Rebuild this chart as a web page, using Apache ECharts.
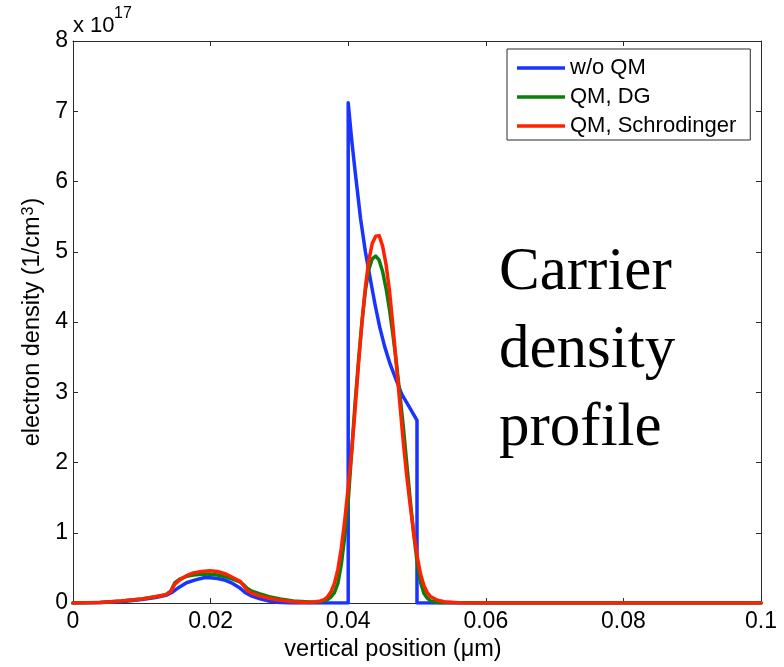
<!DOCTYPE html>
<html>
<head>
<meta charset="utf-8">
<script src="https://cdn.jsdelivr.net/npm/echarts@6/dist/echarts.min.js"></script>
<style>
  html, body { margin: 0; padding: 0; background: #fff; }
  #chart { width: 784px; height: 667px; }
</style>
</head>
<body>
<div id="chart"></div>
<script>
// Electron density along the vertical position, in units of 1e17 /cm^3

// Tick values for both axes
const xTicks = [0, 0.02, 0.04, 0.06, 0.08, 0.1];
const yTicks = [0, 1, 2, 3, 4, 5, 6, 7, 8];

// Classical (no quantum correction) profile
const noQmX = [0, 0.004, 0.007, 0.010, 0.012, 0.0135, 0.0145, 0.0155, 0.0165, 0.0178, 0.019, 0.020, 0.021, 0.022, 0.0232, 0.0242, 0.025, 0.026, 0.0272, 0.0285, 0.030, 0.032, 0.040, 0.040, 0.0405, 0.041, 0.0418, 0.0425, 0.0432, 0.0439, 0.0446, 0.0453, 0.0461, 0.047, 0.0478, 0.049, 0.050, 0.050, 0.1];
const noQmY = [0, 0.01, 0.02, 0.05, 0.08, 0.11, 0.16, 0.23, 0.29, 0.33, 0.36, 0.36, 0.35, 0.33, 0.28, 0.22, 0.15, 0.10, 0.06, 0.03, 0.01, 0, 0, 7.12, 6.6, 6.15, 5.47, 5.0, 4.62, 4.25, 3.92, 3.65, 3.40, 3.17, 2.97, 2.77, 2.60, 0, 0];

// Density-gradient quantum correction
const dgX = [0, 0.004, 0.007, 0.010, 0.012, 0.0135, 0.0142, 0.0148, 0.0155, 0.0165, 0.0175, 0.0187, 0.0199, 0.021, 0.0223, 0.0235, 0.0243, 0.0248, 0.0253, 0.026, 0.0272, 0.0285, 0.0301, 0.032, 0.0344, 0.036, 0.037, 0.0375, 0.038, 0.0385, 0.039, 0.0395, 0.040, 0.0405, 0.041, 0.0415, 0.042, 0.0425, 0.043, 0.0435, 0.044, 0.0445, 0.045, 0.0455, 0.046, 0.0465, 0.047, 0.0475, 0.048, 0.0485, 0.049, 0.0495, 0.050, 0.0505, 0.051, 0.0515, 0.052, 0.053, 0.06, 0.1];
const dgY = [0, 0.01, 0.03, 0.06, 0.09, 0.12, 0.17, 0.29, 0.34, 0.38, 0.40, 0.41, 0.41, 0.40, 0.37, 0.33, 0.30, 0.26, 0.21, 0.17, 0.13, 0.09, 0.06, 0.03, 0.015, 0.02, 0.05, 0.09, 0.15, 0.28, 0.55, 0.95, 1.45, 2.15, 2.85, 3.45, 4.0, 4.45, 4.75, 4.9, 4.94, 4.88, 4.72, 4.48, 4.18, 3.82, 3.42, 2.98, 2.52, 2.0, 1.48, 1.0, 0.6, 0.3, 0.14, 0.07, 0.03, 0.01, 0, 0];

// Schrodinger-Poisson solution
const schX = [0, 0.004, 0.007, 0.010, 0.012, 0.0135, 0.0142, 0.0148, 0.0155, 0.0165, 0.0175, 0.0187, 0.0199, 0.021, 0.0223, 0.0235, 0.0243, 0.0248, 0.0253, 0.026, 0.0272, 0.0285, 0.0301, 0.032, 0.0344, 0.036, 0.0365, 0.037, 0.0375, 0.038, 0.0385, 0.039, 0.0395, 0.040, 0.0405, 0.041, 0.0415, 0.042, 0.0425, 0.043, 0.0435, 0.044, 0.0445, 0.045, 0.0455, 0.046, 0.0465, 0.047, 0.0475, 0.048, 0.0485, 0.049, 0.0495, 0.050, 0.0505, 0.051, 0.0515, 0.052, 0.053, 0.054, 0.056, 0.06, 0.1];
const schY = [0, 0.01, 0.03, 0.06, 0.09, 0.12, 0.16, 0.27, 0.33, 0.39, 0.43, 0.45, 0.46, 0.45, 0.41, 0.35, 0.31, 0.25, 0.18, 0.14, 0.10, 0.07, 0.04, 0.02, 0.01, 0.03, 0.05, 0.09, 0.16, 0.28, 0.48, 0.78, 1.18, 1.65, 2.15, 2.75, 3.4, 4.0, 4.5, 4.88, 5.12, 5.22, 5.23, 5.08, 4.82, 4.45, 3.95, 3.4, 2.85, 2.3, 1.82, 1.4, 1.02, 0.68, 0.42, 0.25, 0.15, 0.09, 0.04, 0.02, 0.005, 0, 0];

const seriesNames = ['w/o QM', 'QM, DG', 'QM, Schrodinger'];
const seriesColors = ['#1a33ff', '#0a800a', '#ff2200'];

function pairs(xs, ys) {
  return xs.map((x, i) => [x, ys[i]]);
}

const font = '"Liberation Sans", Arial, sans-serif';
const frame = '#2b2b2b';

const chart = echarts.init(document.getElementById('chart'), null, { renderer: 'canvas' });

const axisCommon = {
  type: 'value',
  axisLine: { show: true, onZero: false, lineStyle: { color: frame, width: 1 } },
  axisTick: { show: true, inside: true, length: 5, lineStyle: { color: frame } },
  splitLine: { show: false }
};

const xLabelSet = new Set(xTicks.map(v => v.toFixed(3)));
const yLabelSet = new Set(yTicks.map(v => v.toFixed(3)));

chart.setOption({
  animation: false,
  backgroundColor: '#ffffff',
  grid: { left: 73, right: 23, top: 41, bottom: 60, containLabel: false },
  xAxis: [
    Object.assign({}, axisCommon, {
      position: 'bottom',
      min: xTicks[0], max: xTicks[xTicks.length - 1], interval: 0.02,
      name: 'vertical position (\u03bcm)',
      nameLocation: 'middle', nameGap: 33,
      nameTextStyle: { fontFamily: font, fontSize: 23.5, color: '#000', padding: [0, 48, 0, 0] },
      axisLabel: {
        margin: 7, fontFamily: font, fontSize: 23, color: '#000',
        formatter: v => xLabelSet.has(v.toFixed(3)) ? String(+v.toFixed(3)) : ''
      }
    }),
    Object.assign({}, axisCommon, {
      position: 'top',
      min: xTicks[0], max: xTicks[xTicks.length - 1], interval: 0.02,
      axisLabel: { show: false }
    })
  ],
  yAxis: [
    Object.assign({}, axisCommon, {
      position: 'left',
      min: yTicks[0], max: yTicks[yTicks.length - 1], interval: 1,
      name: '{a|electron density (1/cm}{s|3}{a|)}',
      nameLocation: 'middle', nameGap: 27,
      nameTextStyle: {
        fontFamily: font, fontSize: 23.5, color: '#000',
        rich: {
          a: { fontFamily: font, fontSize: 23.5, color: '#000' },
          s: { fontFamily: font, fontSize: 16, color: '#000', verticalAlign: 'top', padding: [0, 1, 0, 1] }
        }
      },
      axisLabel: {
        margin: 5, fontFamily: font, fontSize: 23, color: '#000',
        formatter: v => yLabelSet.has(v.toFixed(3)) ? String(v) : ''
      }
    }),
    Object.assign({}, axisCommon, {
      position: 'right',
      min: yTicks[0], max: yTicks[yTicks.length - 1], interval: 1,
      axisLabel: { show: false }
    })
  ],
  legend: {
    show: true,
    orient: 'vertical',
    left: 507, top: 49,
    padding: [8, 14, 3, 10],
    itemGap: 7,
    icon: 'rect',
    itemWidth: 48, itemHeight: 3.5,
    backgroundColor: '#fff',
    borderColor: frame, borderWidth: 1,
    textStyle: { fontFamily: font, fontSize: 22, lineHeight: 22, color: '#000' },
    data: seriesNames
  },
  series: [
    { name: seriesNames[0], data: pairs(noQmX, noQmY) },
    { name: seriesNames[1], data: pairs(dgX, dgY) },
    { name: seriesNames[2], data: pairs(schX, schY) }
  ].map((s, i) => ({
    type: 'line',
    name: s.name,
    data: s.data,
    xAxisIndex: 0, yAxisIndex: 0,
    symbol: 'none',
    smooth: false,
    clip: true,
    color: seriesColors[i],
    itemStyle: { color: seriesColors[i] },
    lineStyle: { color: seriesColors[i], width: 3.5, join: 'round', cap: 'round' },
    z: 2 + i
  })),
  graphic: [
    {
      type: 'text', left: 73, top: 15, z: 10,
      style: { text: 'x 10', fontFamily: font, fontSize: 22, fill: '#000' }
    },
    {
      type: 'text', left: 114, top: 6, z: 10,
      style: { text: '17', fontFamily: font, fontSize: 16, fill: '#000' }
    },
    {
      type: 'text', left: 499, top: 234, z: 10,
      style: {
        text: 'Carrier\ndensity\nprofile',
        fontFamily: '"Liberation Serif", "Times New Roman", serif',
        fontSize: 61, lineHeight: 78, fill: '#000'
      }
    }
  ]
});
</script>
</body>
</html>
